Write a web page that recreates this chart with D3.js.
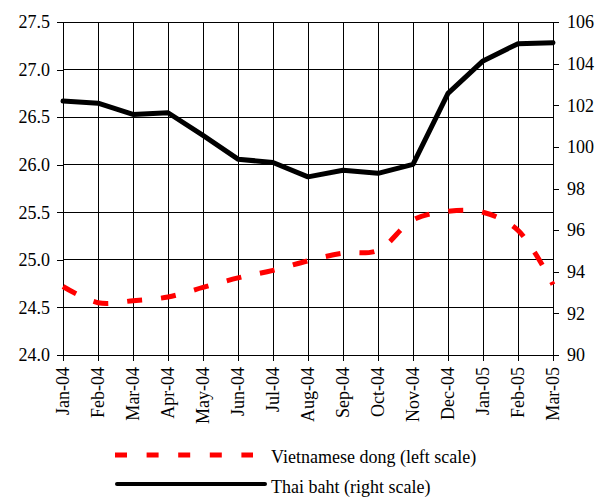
<!DOCTYPE html>
<html>
<head>
<meta charset="utf-8">
<script src="https://cdn.jsdelivr.net/npm/d3@7"></script>
<style>
  body { margin: 0; background: #fff; }
  text { font-family: "Liberation Serif", "Times New Roman", serif; font-size: 18px; fill: #000; }
</style>
</head>
<body>
<div class="canva"></div>
<script>
// months on the x axis
const months = ["Jan-04","Feb-04","Mar-04","Apr-04","May-04","Jun-04","Jul-04","Aug-04",
                "Sep-04","Oct-04","Nov-04","Dec-04","Jan-05","Feb-05","Mar-05"];
// Vietnamese dong (left scale)
const dong = [24.72,24.55,24.57,24.61,24.71,24.81,24.89,24.99,25.07,25.10,25.42,25.51,25.50,25.31,24.74];
// Thai baht (right scale)
const baht = [102.2,102.1,101.56,101.64,100.55,99.41,99.25,98.56,98.88,98.73,99.16,102.57,104.13,104.96,105.0];

const leftTicks = [24.0,24.5,25.0,25.5,26.0,26.5,27.0,27.5];
const rightTicks = [90,92,94,96,98,100,102,104,106];

const W = 616, H = 500;
const m = {left: 63, right: 63, top: 22, bottom: 145};

const svg = d3.select(".canva").append("svg")
  .attr("width", W)
  .attr("height", H);

const x = d3.scalePoint().domain(months).range([m.left, W - m.right]);
const yL = d3.scaleLinear().domain([24, 27.5]).range([H - m.bottom, m.top]);
const yR = d3.scaleLinear().domain([90, 106]).range([H - m.bottom, m.top]);

// grid
const grid = svg.append("g");
grid.selectAll(".hg").data(leftTicks).enter().append("line")
  .attr("x1", m.left).attr("x2", W - m.right)
  .attr("y1", d => yL(d)).attr("y2", d => yL(d))
  .attr("stroke", "#000").attr("stroke-width", 1).attr("shape-rendering", "crispEdges");
grid.selectAll(".vg").data(months).enter().append("line")
  .attr("x1", d => x(d)).attr("x2", d => x(d))
  .attr("y1", m.top).attr("y2", H - m.bottom)
  .attr("stroke", "#000").attr("stroke-width", 1).attr("shape-rendering", "crispEdges");

// axes
const axL = svg.append("g").attr("transform", `translate(${m.left},0)`)
  .call(d3.axisLeft(yL).tickValues(leftTicks).tickFormat(d3.format(".1f")).tickSize(6).tickPadding(7));
const axR = svg.append("g").attr("transform", `translate(${W - m.right},0)`)
  .call(d3.axisRight(yR).tickValues(rightTicks).tickFormat(d3.format("d")).tickSize(6).tickPadding(8));
const axB = svg.append("g").attr("transform", `translate(0,${H - m.bottom})`)
  .call(d3.axisBottom(x).tickSize(6).tickPadding(6));
axB.selectAll("text")
  .attr("transform", "rotate(-90)")
  .attr("text-anchor", "end")
  .attr("x", -12).attr("y", 0).attr("dy", "0.33em");

[axL, axR, axB].forEach(a => {
  a.attr("font-family", null).attr("font-size", null);
  a.select(".domain").attr("stroke", "#000").attr("shape-rendering", "crispEdges");
  a.selectAll(".tick line").attr("stroke", "#000").attr("shape-rendering", "crispEdges");
  a.selectAll("text").style("font-family", "'Liberation Serif', serif").style("font-size", "18px").attr("fill", "#000");
});

// lines
const dongLine = d3.line()
  .x((d, i) => x(months[i]))
  .y(d => yL(d))
  .curve(d3.curveCatmullRom.alpha(0.5));
const bahtLine = d3.line()
  .x((d, i) => x(months[i]))
  .y(d => yR(d));

svg.append("path").datum(dong)
  .attr("d", dongLine)
  .attr("fill", "none").attr("stroke", "#ff0000")
  .attr("stroke-width", 5).attr("stroke-dasharray", "15,19");

svg.append("path").datum(baht)
  .attr("d", bahtLine)
  .attr("fill", "none").attr("stroke", "#000")
  .attr("stroke-width", 5).attr("stroke-linejoin", "round").attr("stroke-linecap", "round");

// legend
const legend = svg.append("g");
legend.append("line")
  .attr("x1", 115).attr("x2", 253).attr("y1", 455).attr("y2", 455)
  .attr("stroke", "#ff0000").attr("stroke-width", 5).attr("stroke-dasharray", "12,19.6");
legend.append("text").attr("x", 271).attr("y", 463).text("Vietnamese dong (left scale)");
legend.append("line")
  .attr("x1", 117).attr("x2", 265).attr("y1", 484).attr("y2", 484)
  .attr("stroke", "#000").attr("stroke-width", 4).attr("stroke-linecap", "round");
legend.append("text").attr("x", 271).attr("y", 493).text("Thai baht (right scale)");
</script>
</body>
</html>
